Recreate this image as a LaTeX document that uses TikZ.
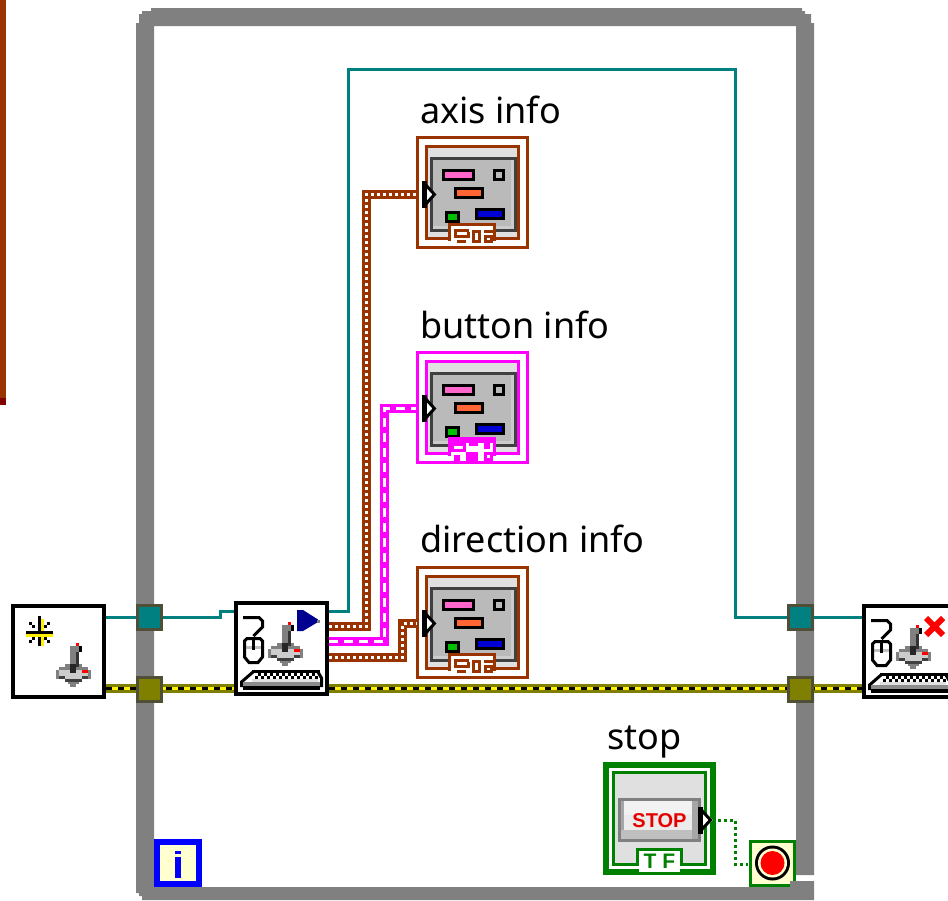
\documentclass[tikz,border=0pt]{standalone}
\usepackage{fontspec}
\setmainfont{Noto Sans}
\newfontfamily\iconfont{Liberation Sans}
\usepackage{tikz}
\usetikzlibrary{calc,positioning}
\definecolor{wirebrown}{HTML}{993300}
\definecolor{wireteal}{HTML}{008080}
\definecolor{wirepink}{HTML}{FF00FF}
\definecolor{tunneledge}{HTML}{4F4F38}
\definecolor{framegray}{HTML}{808080}
\definecolor{boolgreen}{HTML}{008000}
\definecolor{paleyellow}{HTML}{FFFFD0}
\definecolor{errorolive}{HTML}{808000}
\definecolor{infoblue}{HTML}{0000FF}
\definecolor{flagblue}{HTML}{000090}
\definecolor{chippink}{HTML}{FF66CC}
\definecolor{chiporange}{HTML}{FF6633}
\definecolor{chipgreen}{HTML}{00BE00}
\definecolor{chipblue}{HTML}{0000D2}
\newcommand{\px}[3]{\fill[#1] (#2) rectangle (#3);}
\tikzset{
  icon/.style={rectangle,draw=black,fill=white,line width=4pt,inner sep=0pt,minimum size=91pt},
  cluster/.style={rectangle,draw=#1,fill=white,line width=3pt,inner sep=0pt,minimum size=110pt},
  tunnel/.style={rectangle,draw=tunneledge,fill=#1,line width=3pt,inner sep=0pt,minimum size=24pt},
  vilabel/.style={anchor=base west,inner sep=0pt,font=\fontsize{36}{36}\selectfont,text=black},
  tealwire/.style={draw=wireteal,line width=3pt},
  clusterwire/.style={draw=white,line width=3pt,dash pattern=on 3pt off 3pt,preaction={draw=wirebrown,line width=9pt,solid}},
  pinkwire/.style={draw=white,line width=3pt,dash pattern=on 9pt off 6pt,preaction={draw=wirepink,line width=9pt,solid}},
  errorwire/.style={draw=black,line width=3pt,dash pattern=on 6pt off 6pt,preaction={draw=errorolive,line width=9pt,solid},preaction={draw=yellow,line width=3pt,solid}},
  boolwire/.style={draw=boolgreen,line width=3pt,dash pattern=on 3pt off 3pt},
  pics/joystick/.style={code={
    \begin{scope}[shift={(-281.5,-648.5)}]
    \px{framegray}{276,644}{293,647}
    \px{framegray}{270,647}{299,650}
    \px{framegray}{267,650}{302,659}
    \px{black!20}{270,650}{299,656}
    \px{black!75}{270,656}{299,659}
    \px{black!20}{276,656}{293,659}
    \px{black!75}{276,659}{293,662}
    \px{framegray}{279,662}{290,664}
    \px{framegray}{281,664}{287,667}
    \px{framegray}{281,626}{287,644}
    \px{framegray}{284,626}{290,632}
    \px{black!80}{287,632}{290,647}
    \px{black}{290,626}{293,632}
    \px{red}{287,623}{290,626}
    \px{black!85}{281,644}{287,653}
    \px{red}{293,650}{299,653}
    \end{scope}
  }},
  pics/mousekeys/.style={code={
    \begin{scope}[shift={(-281.5,-648.5)}]
    \draw[line width=3pt] (243,617.5) -- (259,617.5) -- (262.5,621) -- (262.5,627) -- (253.5,636);
    \px{black!25}{245,646}{262,649}
    \draw[line width=3pt] (247,638.5) -- (260,638.5) -- (262.5,641) -- (262.5,657) -- (258,662.5) -- (249,662.5) -- (244.5,657) -- (244.5,641) -- cycle;
    \px{black}{252,640}{255,650}
    \px{black}{252,670}{320,673}
    \draw[line width=3pt] (253,672) -- (241.5,682) -- (241.5,687);
    \draw[line width=3pt] (318,672) -- (321.5,678) -- (321.5,687);
    \foreach \kx in {258,264,...,312} {\px{black}{\kx,673}{\kx+3,676}}
    \foreach \kx in {252,258,...,312} {\px{black}{\kx+3,676}{\kx+6,679}}
    \px{black!12}{252,679}{318,682}
    \px{black!45}{243,682}{320,686}
    \px{black}{243,686}{320,690}
    \end{scope}
  }},
  pics/panel/.style={code={
    \begin{scope}[shift={(-472.5,-192.5)}]
    \draw[draw=#1,fill=black!12,line width=3pt] (426.5,146.5) rectangle (518.5,238.5);
    \draw[draw=black!75,fill=black!27,line width=3pt] (431.5,158.5) rectangle (515.5,230.5);
    \px{black!20}{511,160}{514,229}
    \px{black!20}{433,226}{514,229}
    \draw[fill=chippink,draw=black,line width=3pt] (443.5,170.5) rectangle (473.5,179.5);
    \draw[fill=black!27,draw=black,line width=3pt] (494.5,170.5) rectangle (503.5,179.5);
    \draw[fill=chiporange,draw=black,line width=3pt] (455.5,188.5) rectangle (482.5,197.5);
    \draw[fill=chipgreen,draw=black,line width=3pt] (446.5,212.5) rectangle (458.5,221.5);
    \draw[fill=chipblue,draw=black,line width=3pt] (476.5,209.5) rectangle (503.5,218.5);
    \px{white}{451,226}{493,246}
    \draw[draw=#1,line width=3pt] (449.5,241) -- (449.5,224.5) -- (494.5,224.5) -- (494.5,241);
    \end{scope}
  }},
  pics/typeglyph/.style={code={
    \begin{scope}[shift={(-472.5,-192.5)},#1]
    \draw[line width=3pt] (469,230.5) -- (455.5,230.5) -- (455.5,236.5) -- (468,236.5) -- (468,232);
    \draw[line width=3pt] (457,241.5) -- (466,241.5);
    \draw[line width=3pt] (473.5,231.5) rectangle (479.5,241.5);
    \draw[line width=3pt] (484,231.5) -- (493,231.5);
    \draw[line width=3pt] (485.5,236.5) rectangle (491.5,241.5);
    \end{scope}
  }},
  pics/flatglyph/.style={code={
    \begin{scope}[shift={(-472.5,-192.5)},#1]
    \fill (448,222) rectangle (496,228);
    \fill (451,228) rectangle (466,237);
    \px{white}{454,231}{463,234}
    \fill (469,228) rectangle (478,231);
    \fill (484,228) rectangle (490,234);
    \fill (454,240) rectangle (460,246);
    \fill (466,237) rectangle (478,246);
    \fill (484,237) rectangle (493,246);
    \px{white}{487,240}{490,243}
    \end{scope}
  }},
  pics/terminaltri/.style={code={
    \fill[white] (-9,-12) -- (5,0) -- (-9,12) -- cycle;
    \draw[line width=3pt] (-8.5,-12) -- (2.5,0) -- (-8.5,12);
    \px{black}{-10,-13.5}{-5,13.5}
  }},
}
\begin{document}
\begin{tikzpicture}[x=1pt,y=-1pt,node distance=215pt]
\useasboundingbox (0,0) rectangle (948,900);
\clip (0,0) rectangle (948,900);
% shift register end on the far left
\px{wirebrown}{0,0}{6,398}
\px{black!50!red}{0,398}{6,405}
% conditional terminal goes under the frame
\node[rectangle,draw=boolgreen,fill=paleyellow,line width=3pt,inner sep=0pt,minimum size=44pt] (stopterm) at (772.5,863) {};
\fill[black] (stopterm.center) circle (17.5);
\fill[paleyellow] (stopterm.center) circle (14.5);
\fill[red] (stopterm.center) circle (12);
% while loop frame
\fill[framegray] (136,23) -- (139,23) -- (139,14) -- (142,14) -- (142,11) -- (151,11) -- (151,8) -- (802,8) -- (802,11) -- (805,11) -- (805,14) -- (811,14) -- (811,23) -- (814,23) -- (814,875) -- (796,875) -- (796,26) -- (154,26) -- (154,887) -- (790,887) -- (790,881) -- (814,881) -- (814,900) -- (142,900) -- (142,896) -- (139,896) -- (139,893) -- (136,893) -- cycle;
\node[rectangle,draw=infoblue,fill=paleyellow,line width=6pt,inner sep=0pt,minimum size=42pt] (iterm) at (177.5,863) {};
\px{infoblue}{175,851}{181,854}
\px{infoblue}{175,857}{181,878}
% subvi icons
\node[icon] (hidopen) at (58.5,651.5) {};
\node[icon] (hidread) at (281.5,648.5) {};
\node[icon] (hidclose) at (909.5,651.5) {};
% clusters
\node[cluster=wirebrown] (axisinfo) at (472.5,192.5) {};
\node[cluster=wirepink] [below of=axisinfo] (buttoninfo) {};
\node[cluster=wirebrown] [below of=buttoninfo] (directioninfo) {};
\node[cluster=boolgreen,line width=6pt,minimum size=107pt] (stopbtn) at (659.5,818.5) {};
% wires
\path[errorwire] (hidopen.east |- 0,688.5) -- (hidread.west |- 0,688.5);
\path[errorwire] (hidread.east |- 0,688.5) -- (hidclose.west |- 0,688.5);
\path[tealwire] (hidopen.east |- 0,617.5) -- (220.5,617.5) -- (220.5,611) -- (hidread.west |- 0,611);
\path[tealwire] (hidread.east |- 0,611) -- (348.5,611) -- (348.5,69.5) -- (735.5,69.5) -- (735.5,617.5) -- (hidclose.west |- 0,617.5);
\path[clusterwire] ([yshift=22pt]hidread.east) -- (366.5,626.5) -- (366.5,194.5) -- ([yshift=-2pt]axisinfo.west);
\path[pinkwire] ([yshift=7pt]hidread.east) -- (384.5,641.5) -- (384.5,408.5) -- ([yshift=-1pt]buttoninfo.west);
\path[clusterwire] ([yshift=-8.5pt]hidread.east) -- (402.5,657) -- (402.5,623.5) -- ([yshift=-1pt]directioninfo.west);
\path[boolwire] (712,820) -- (735.5,820) -- (735.5,864) -- (748,864);
% tunnels
\node[tunnel=wireteal] (tunnelrefl) at (149.5,617.5) {};
\node[tunnel=errorolive] (tunnelerrl) at (149.5,689) {};
\node[tunnel=wireteal] (tunnelrefr) at (800.5,617.5) {};
\node[tunnel=errorolive] (tunnelerrr) at (800.5,689) {};
% icon contents
\pic at (70.5,668.5) {joystick};
\px{black}{38,616}{41,646}
\px{yellow}{41,619}{44,646}
\px{black}{26,631}{53,634}
\px{yellow}{26,634}{53,637}
\foreach \sx/\sy in {29/622,32/625,47/622,44/625,29/640,32/637,47/640,44/637} {\px{black}{\sx,\sy}{\sx+3,\sy+3}}
\pic at ([xshift=1pt,yshift=1pt]hidread.center) {joystick};
\pic at (hidread.center) {mousekeys};
\fill[flagblue] (297,610) -- (303,610) -- (318,619.5) -- (318,622) -- (303,631) -- (297,631) -- cycle;
\px{framegray}{317,620}{320,623}
\pic at ([xshift=1pt,yshift=1pt]hidclose.center) {joystick};
\pic at (hidclose.center) {mousekeys};
\draw[red,line width=6pt] (926,618) -- (943,635) (943,618) -- (926,635);
% cluster contents
\pic at (axisinfo.center) {panel=wirebrown};
\pic at (axisinfo.center) {typeglyph={draw=wirebrown,fill=none}};
\pic at (buttoninfo.center) {panel=wirepink};
\pic at (buttoninfo.center) {flatglyph={fill=wirepink}};
\pic at (directioninfo.center) {panel=wirebrown};
\pic at (directioninfo.center) {typeglyph={draw=wirebrown,fill=none}};
\pic at ([xshift=-40.5pt,yshift=-2pt]axisinfo.center) {terminaltri};
\pic at ([xshift=-40.5pt,yshift=-1pt]buttoninfo.center) {terminaltri};
\pic at ([xshift=-40.5pt,yshift=-1pt]directioninfo.center) {terminaltri};
% stop control
\draw[draw=boolgreen,fill=black!12,line width=3pt] (613.5,772.5) rectangle (705.5,864.5);
\px{black!8}{618,798}{701,842}
\px{black!5}{621,801}{698,815}
\px{black!35}{621,801}{624,839}
\px{black!25}{621,830}{698,839}
\px{black!35}{692,801}{698,839}
\draw[framegray,line width=3pt] (619.5,799.5) rectangle (699.5,840.5);
\node[inner sep=0pt,text=red!90!black,font=\iconfont\fontsize{20}{20}\selectfont\bfseries] (stopface) at (659.5,820.5) {STOP};
\node[anchor=north,fill=white,inner sep=0pt,minimum width=41pt,minimum height=21pt,text=boolgreen,font=\iconfont\fontsize{21}{21}\selectfont\bfseries] (tfbox) at (659.5,851) {T\hspace{6pt}F};
\draw[boolgreen,line width=3pt] (637.5,866) -- (637.5,849.5) -- (681.5,849.5) -- (681.5,866);
\pic at (708,820) {terminaltri};
% labels
\node[vilabel] (axislabel) at (420,123) {axis info};
\node[vilabel] (buttonlabel) at (420,338) {button info};
\node[vilabel] (directionlabel) at (420,552) {direction info};
\node[vilabel] (stoplabel) at (607,749) {stop};
\end{tikzpicture}
\end{document}
